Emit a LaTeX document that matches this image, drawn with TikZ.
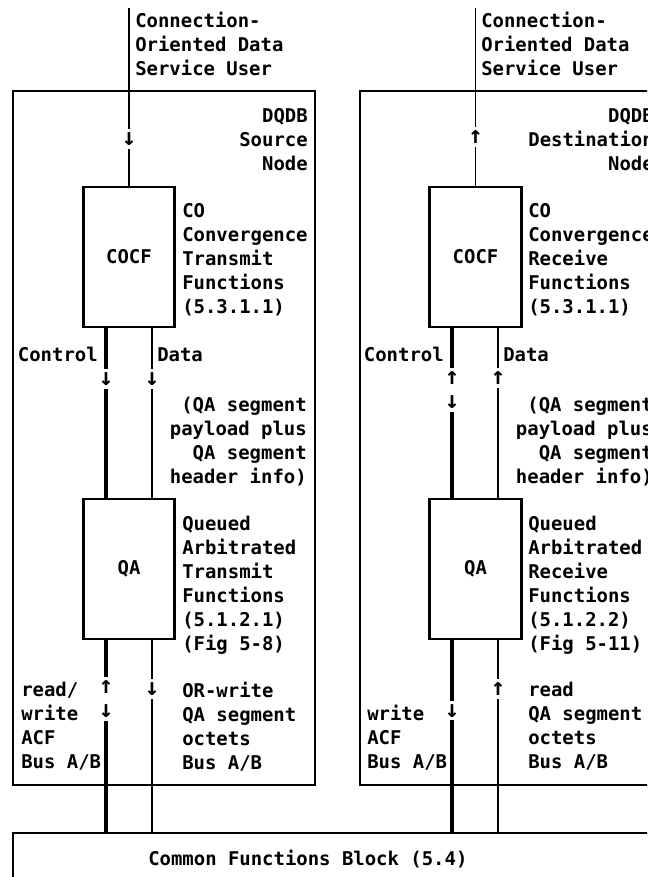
\documentclass[tikz,border=0pt]{standalone}
\usepackage{fontspec}
\setmonofont{DejaVu Sans Mono}
\tikzset{
  txt/.style={inner sep=0pt, font=\ttfamily\bfseries\fontsize{14.2}{18}\selectfont},
  fnbox/.style={draw, line width=2pt, inner sep=0pt, minimum width=68.6pt,
    minimum height=105pt, font=\ttfamily\bfseries\fontsize{14.2}{18}\selectfont},
  frame/.style={draw, line width=1pt},
  ctlline/.style={line width=3pt},
  datline/.style={line width=1.1pt},
  arr/.style={fill=white, inner xsep=1pt, inner ysep=2.5pt,
    font=\ttfamily\bfseries\fontsize{18}{18}\selectfont},
}
\begin{document}
\begin{tikzpicture}[x=0.75pt, y=-0.75pt]
  \useasboundingbox (0,0) rectangle (647,877);
  \clip (0,0) rectangle (647,877);

  % node frames and common block
  \draw[frame] (13,91) rectangle (315,785);
  \draw[frame] (360,91) rectangle (661,785);
  \node[frame, outer sep=0pt, anchor=north west, minimum width=520pt,
    minimum height=80pt] (cfb) at (13,833) {};
  \node[txt, anchor=north west] (cfbtxt) at (148,850) {Common Functions Block (5.4)};

  % function boxes
  \node[fnbox] (cocfL) at (129,257) {COCF};
  \node[fnbox] (qaL) at (129,569) {QA};
  \node[fnbox] (cocfR) at (475.5,257) {COCF};
  \node[fnbox] (qaR) at (475.5,569) {QA};

  \coordinate (usrL) at (129,8);
  \coordinate (usrR) at (475.5,8);
  \coordinate (ctlL) at (106,0);
  \coordinate (datL) at (152,0);
  \coordinate (ctlR) at (452,0);
  \coordinate (datR) at (498,0);

  % source node (left)
  \draw[datline] (usrL) -- node[pos=0.737, arr] (a1) {↓} (cocfL.north);
  \draw[ctlline] (cocfL.south -| ctlL) -- node[pos=0.30, arr] (a2) {↓} (qaL.north -| ctlL);
  \draw[datline] (cocfL.south -| datL) -- node[pos=0.30, arr] (a3) {↓} (qaL.north -| datL);
  \draw[ctlline] (qaL.south -| ctlL) -- node[pos=0.303, arr, align=center] (a4) {↑\\↓} (cfb.north -| ctlL);
  \draw[datline] (qaL.south -| datL) -- node[pos=0.254, arr] (a5) {↓} (cfb.north -| datL);

  % destination node (right)
  \draw[datline] (usrR) -- node[pos=0.726, arr] (b1) {↑} (cocfR.north);
  \draw[ctlline] (cocfR.south -| ctlR) -- node[pos=0.364, arr, align=center] (b2) {↑\\↓} (qaR.north -| ctlR);
  \draw[datline] (cocfR.south -| datR) -- node[pos=0.293, arr] (b3) {↑} (qaR.north -| datR);
  \draw[ctlline] (qaR.south -| ctlR) -- node[pos=0.365, arr] (b4) {↓} (cfb.north -| ctlR);
  \draw[datline] (qaR.south -| datR) -- node[pos=0.254, arr] (b5) {↑} (cfb.north -| datR);

  % labels, left
  \node[txt, anchor=north west, align=left] (usrLtxt) at (135,12) {Connection-\\Oriented Data\\Service User};
  \node[txt, anchor=north east, align=right] (srctxt) at (308,108) {DQDB\\Source\\Node};
  \node[txt, anchor=north west, align=left] (cocfLtxt) at (182,203) {CO\\Convergence\\Transmit\\Functions\\(5.3.1.1)};
  \node[txt, anchor=north east] (ctlLtxt) at (98,347) {Control};
  \node[txt, anchor=north west] (datLtxt) at (157,347) {Data};
  \node[txt, anchor=north east, align=right] (segLtxt) at (307,397) {(QA segment\\payload plus\\QA segment\\header info)};
  \node[txt, anchor=north west, align=left] (qaLtxt) at (182,516) {Queued\\Arbitrated\\Transmit\\Functions\\(5.1.2.1)\\(Fig 5-8)};
  \node[txt, anchor=north west, align=left] (rwLtxt) at (21,682) {read/\\write\\ACF\\Bus A/B};
  \node[txt, anchor=north west, align=left] (orLtxt) at (182,682) {OR-write\\QA segment\\octets\\Bus A/B};

  % labels, right
  \node[txt, anchor=north west, align=left] (usrRtxt) at (481,12) {Connection-\\Oriented Data\\Service User};
  \node[txt, anchor=north east, align=right] (dsttxt) at (654,108) {DQDB\\Destination\\Node};
  \node[txt, anchor=north west, align=left] (cocfRtxt) at (528,203) {CO\\Convergence\\Receive\\Functions\\(5.3.1.1)};
  \node[txt, anchor=north east] (ctlRtxt) at (444,347) {Control};
  \node[txt, anchor=north west] (datRtxt) at (503,347) {Data};
  \node[txt, anchor=north east, align=right] (segRtxt) at (653,397) {(QA segment\\payload plus\\QA segment\\header info)};
  \node[txt, anchor=north west, align=left] (qaRtxt) at (528,516) {Queued\\Arbitrated\\Receive\\Functions\\(5.1.2.2)\\(Fig 5-11)};
  \node[txt, anchor=north west, align=left] (wRtxt) at (367,705) {write\\ACF\\Bus A/B};
  \node[txt, anchor=north west, align=left] (rdRtxt) at (528,682) {read\\QA segment\\octets\\Bus A/B};
\end{tikzpicture}
\end{document}
